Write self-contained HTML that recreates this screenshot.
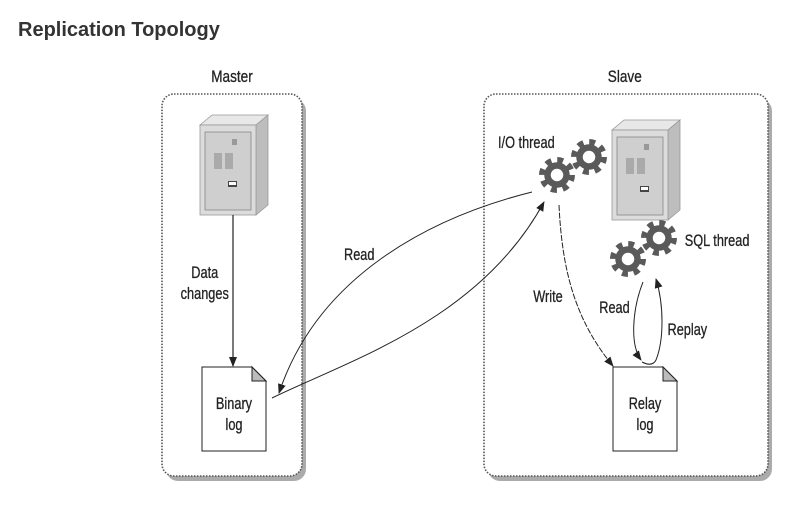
<!DOCTYPE html>
<html><head><meta charset="utf-8"><style>
body{margin:0;background:#fff;width:805px;height:508px;overflow:hidden;font-family:"Liberation Sans",sans-serif}
</style></head><body>
<svg width="805" height="508" viewBox="0 0 805 508" xmlns="http://www.w3.org/2000/svg">
<defs>
<marker id="ah" markerWidth="10" markerHeight="8" refX="9" refY="4" orient="auto" markerUnits="userSpaceOnUse"><path d="M0,0 L10,4 L0,8 Z" fill="#222"/></marker>
<g id="srv">
<path d="M0,10 L12,0 L68,0 L68,90 L56,100 L0,100 Z" fill="#d8d8d8"/>
<path d="M0,10 L12,0 L68,0 L56,10 Z" fill="#e8e8e8" stroke="#999" stroke-width="0.8"/>
<path d="M56,10 L68,0 L68,90 L56,100 Z" fill="#bdbdbd" stroke="#999" stroke-width="0.8"/>
<rect x="0" y="10" width="56" height="90" fill="#dcdcdc" stroke="#999" stroke-width="0.8"/>
<rect x="5" y="17" width="46" height="78" fill="#cfcfcf" stroke="#888" stroke-width="0.8"/>
<rect x="14" y="38" width="8" height="16" fill="#aaa"/><rect x="25" y="38" width="8" height="16" fill="#aaa"/>
<rect x="32" y="24" width="5" height="6" fill="#999"/>
<rect x="28" y="66" width="9" height="6" fill="#444"/><rect x="29" y="67" width="7" height="3" fill="#fff"/>
</g>
<g id="gear">
<circle r="15" fill="none" stroke="#5a5a5a" stroke-width="6" stroke-dasharray="5.9 5.9"/>
<circle r="9.5" fill="none" stroke="#5a5a5a" stroke-width="6.5"/>
</g>
<g id="doc">
<path d="M0,0 L50,0 L64,14 L64,84 L0,84 Z" fill="#fff" stroke="#222" stroke-width="1"/>
<path d="M50,0 L50,14 L64,14 Z" fill="#bbb" stroke="#222" stroke-width="1"/>
</g>
</defs>
<text x="18" y="36" font-size="20" font-weight="bold" fill="#333">Replication Topology</text>

<rect x="166" y="99" width="140" height="382" rx="12" fill="#888" opacity="0.7"/>
<rect x="162" y="94" width="140" height="382" rx="12" fill="#fff" stroke="#555" stroke-width="1.6" stroke-dasharray="1.5 1.5"/>
<rect x="488" y="99" width="284" height="382" rx="12" fill="#888" opacity="0.7"/>
<rect x="484" y="94" width="284" height="382" rx="12" fill="#fff" stroke="#555" stroke-width="1.6" stroke-dasharray="1.5 1.5"/>

<g font-family="Liberation Sans, sans-serif" font-size="17" fill="#222" stroke="#222" stroke-width="0.3" transform="scale(0.8,1)">
<text x="290" y="82" text-anchor="middle">Master</text>
<text x="781" y="82" text-anchor="middle">Slave</text>
</g>

<use href="#srv" x="200" y="115"/>
<use href="#srv" x="612" y="120"/>

<line x1="233" y1="215" x2="233" y2="366" stroke="#222" stroke-width="1.2" marker-end="url(#ah)"/>

<use href="#doc" x="202" y="367"/>
<use href="#doc" x="613" y="367"/>

<path d="M532,192 C440,215 320,270 279,393" fill="none" stroke="#222" stroke-width="1" marker-end="url(#ah)"/>
<path d="M272,398 C350,360 480,320 544,202" fill="none" stroke="#222" stroke-width="1" marker-end="url(#ah)"/>
<path d="M559,205 C562,270 575,320 613,366" fill="none" stroke="#222" stroke-width="1" stroke-dasharray="6 1.5" marker-end="url(#ah)"/>
<path d="M643,282 C632,310 630,345 641,360" fill="none" stroke="#222" stroke-width="1" marker-end="url(#ah)"/>
<path d="M642,362 C650,366 654,364 656,360 C664,340 664,305 656,279" fill="none" stroke="#222" stroke-width="1" marker-end="url(#ah)"/>

<use href="#gear" x="557" y="175"/>
<use href="#gear" x="589" y="157"/>
<use href="#gear" x="628" y="259"/>
<use href="#gear" x="659" y="238"/>

<g font-family="Liberation Sans, sans-serif" font-size="17" fill="#222" stroke="#222" stroke-width="0.3" transform="scale(0.75,1)">
<text x="273" y="278" text-anchor="middle">Data</text>
<text x="273" y="299" text-anchor="middle">changes</text>
<text x="479" y="260" text-anchor="middle">Read</text>
<text x="312" y="409" text-anchor="middle">Binary</text>
<text x="312" y="430" text-anchor="middle">log</text>
<text x="664" y="148">I/O thread</text>
<text x="913" y="246">SQL thread</text>
<text x="711" y="302">Write</text>
<text x="799" y="313">Read</text>
<text x="890" y="335">Replay</text>
<text x="860" y="409" text-anchor="middle">Relay</text>
<text x="860" y="430" text-anchor="middle">log</text>
</g>
</svg>
</body></html>
